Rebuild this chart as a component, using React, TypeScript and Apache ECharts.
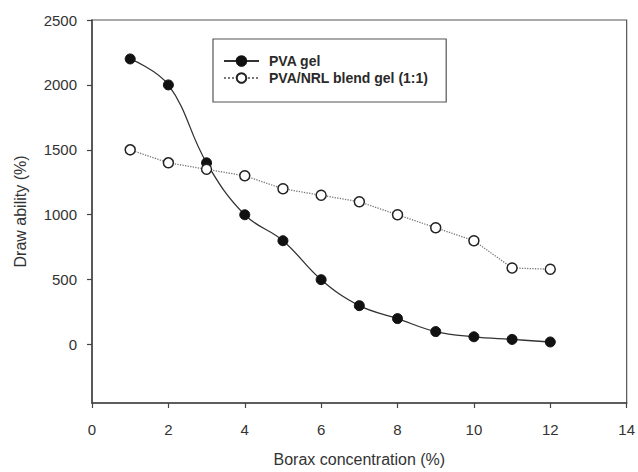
import React, { useEffect, useRef } from "react";
import * as echarts from "echarts";

const boraxConcentration = [1, 2, 3, 4, 5, 6, 7, 8, 9, 10, 11, 12];
const pvaGel = [2200, 2000, 1400, 1000, 800, 500, 300, 200, 100, 60, 40, 20];
const pvaNrlBlend = [1500, 1400, 1350, 1300, 1200, 1150, 1100, 1000, 900, 800, 590, 580];
const yTickValues = [0, 500, 1000, 1500, 2000, 2500];
const seriesNames = ["PVA gel", "PVA/NRL blend gel (1:1)"];

const FONT = "'Liberation Sans', Arial, sans-serif";

export default function App() {
  const ref = useRef<HTMLDivElement>(null);
  useEffect(() => {
    if (!ref.current) return;
    const chart = echarts.init(ref.current, undefined, { renderer: "svg" });
    const toPairs = (ys: number[]) => boraxConcentration.map((x, i) => [x, ys[i]]);
    chart.setOption({
      animation: false,
      backgroundColor: "#ffffff",
      textStyle: { fontFamily: FONT },
      grid: {
        left: 92,
        right: 6,
        top: 20,
        bottom: 63,
        show: true,
        borderColor: "#555",
        borderWidth: 1.2,
        backgroundColor: "transparent",
      },
      legend: {
        orient: "vertical",
        left: 213,
        top: 39,
        data: seriesNames,
        itemWidth: 35,
        itemHeight: 12,
        itemGap: 3,
        padding: [15, 18, 17, 10],
        borderColor: "#555",
        borderWidth: 1.2,
        textStyle: {
          fontFamily: FONT,
          fontSize: 14,
          fontWeight: "bold",
          color: "#2a2a2a",
          padding: [0, 0, 0, 5],
        },
      },
      xAxis: {
        type: "value",
        min: 0,
        max: 14,
        interval: 2,
        name: "Borax concentration (%)",
        nameLocation: "middle",
        nameGap: 48,
        nameTextStyle: { fontFamily: FONT, fontSize: 16, color: "#333" },
        axisLine: { show: true, onZero: false, lineStyle: { color: "#444", width: 1.5 } },
        axisTick: { show: true, inside: false, length: 5, lineStyle: { color: "#444", width: 1.2 } },
        axisLabel: { fontFamily: FONT, fontSize: 15, color: "#333", margin: 19 },
        splitLine: { show: false },
      },
      yAxis: {
        type: "value",
        min: -450,
        max: 2500,
        name: "Draw ability (%)",
        nameLocation: "middle",
        nameGap: 64,
        nameTextStyle: { fontFamily: FONT, fontSize: 16, color: "#333" },
        axisLine: { show: true, onZero: false, lineStyle: { color: "#444", width: 1.5 } },
        axisTick: {
          show: true,
          inside: false,
          length: 5,
          customValues: yTickValues,
          lineStyle: { color: "#444", width: 1.2 },
        },
        axisLabel: {
          fontFamily: FONT,
          fontSize: 15,
          color: "#333",
          margin: 15,
          customValues: yTickValues,
          formatter: (v: number) => String(v),
        },
        splitLine: { show: false },
      },
      series: [
        {
          name: seriesNames[0],
          type: "line",
          data: toPairs(pvaGel),
          smooth: 0.4,
          symbol: "circle",
          symbolSize: 10,
          lineStyle: { color: "#333", width: 1.3, type: "solid" },
          itemStyle: { color: "#111", borderColor: "#111", borderWidth: 1 },
          z: 2,
        },
        {
          name: seriesNames[1],
          type: "line",
          data: toPairs(pvaNrlBlend),
          smooth: false,
          symbol: "circle",
          symbolSize: 10,
          lineStyle: { color: "#777", width: 1.3, type: "dotted" },
          itemStyle: { color: "#ffffff", borderColor: "#222", borderWidth: 1.5 },
          z: 3,
        },
      ],
    });
    return () => chart.dispose();
  }, []);
  return <div ref={ref} style={{ width: 638, height: 472, position: "absolute", left: 0, top: 0 }} />;
}
